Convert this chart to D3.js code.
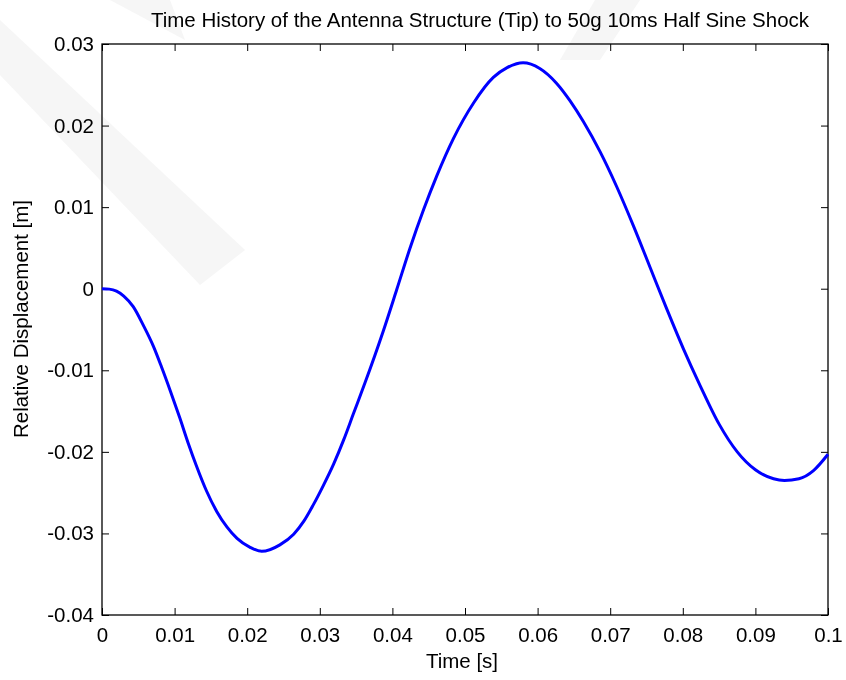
<!DOCTYPE html>
<html>
<head>
<meta charset="utf-8">
<script src="https://cdn.jsdelivr.net/npm/d3@7/dist/d3.min.js"></script>
<style>
  html, body { margin: 0; padding: 0; background: #fff; }
  svg { display: block; }
  text { font-family: "Liberation Sans", Arial, sans-serif; fill: #000; }
</style>
</head>
<body>
<svg id="chart" width="846" height="680"></svg>
<script>
// Tip displacement response to a 50g / 10 ms half-sine shock
const timeS = [0, 0.001, 0.002, 0.003, 0.0043, 0.0057, 0.0071, 0.0082, 0.0094, 0.0107,
  0.0119, 0.013, 0.0144, 0.0158, 0.0172, 0.0186, 0.0204, 0.022, 0.0245, 0.0264,
  0.0278, 0.0291, 0.0305, 0.0319, 0.0333, 0.0346, 0.0362, 0.0387, 0.0406, 0.0424,
  0.0443, 0.0461, 0.0484, 0.0512, 0.0539, 0.0558, 0.058, 0.0603, 0.0626, 0.0645,
  0.0663, 0.0686, 0.0709, 0.0732, 0.0755, 0.0778, 0.0801, 0.0824, 0.085, 0.0875,
  0.09, 0.0925, 0.094, 0.096, 0.098, 0.1];
const displacementM = [0, -0.00005, -0.0003, -0.0009, -0.0022, -0.0045, -0.0071, -0.0096, -0.0125, -0.0158,
  -0.0190, -0.0217, -0.0248, -0.0273, -0.0292, -0.0306, -0.0317, -0.0322, -0.0314, -0.0301,
  -0.0285, -0.0265, -0.0241, -0.0215, -0.0185, -0.0154, -0.0116, -0.0053, -0.0001, 0.0049,
  0.0097, 0.0138, 0.0184, 0.0228, 0.0259, 0.0271, 0.0277, 0.0270, 0.0252, 0.0230,
  0.0205, 0.0168, 0.0125, 0.0077, 0.0026, -0.0025, -0.0074, -0.0119, -0.0166, -0.0200,
  -0.0222, -0.0233, -0.0235, -0.0233, -0.0223, -0.0203];

const xTicks = [0, 0.01, 0.02, 0.03, 0.04, 0.05, 0.06, 0.07, 0.08, 0.09, 0.1];
const yTicks = [-0.04, -0.03, -0.02, -0.01, 0, 0.01, 0.02, 0.03];
const xTickLabels = ["0", "0.01", "0.02", "0.03", "0.04", "0.05", "0.06", "0.07", "0.08", "0.09", "0.1"];
const yTickLabels = ["-0.04", "-0.03", "-0.02", "-0.01", "0", "0.01", "0.02", "0.03"];

const titleText = "Time History of the Antenna Structure (Tip) to 50g 10ms Half Sine Shock";
const xLabelText = "Time [s]";
const yLabelText = "Relative Displacement [m]";

const svg = d3.select("#chart");
const W = 846, H = 680;
const m = { left: 102, right: 846 - 828, top: 44, bottom: 680 - 615 };
const pw = W - m.left - m.right, ph = H - m.top - m.bottom;

const fontSize = 20.5;
const tickLen = 7;

const x = d3.scaleLinear().domain([0, 0.1]).range([m.left, m.left + pw]);
const y = d3.scaleLinear().domain([-0.04, 0.03]).range([m.top + ph, m.top]);

// frame
svg.append("rect")
  .attr("x", m.left).attr("y", m.top).attr("width", pw).attr("height", ph)
  .attr("fill", "none").attr("stroke", "#000").attr("stroke-width", 1.3);

// bottom axis with inward ticks
const xAxisB = d3.axisBottom(x).tickValues(xTicks)
  .tickFormat((d, i) => xTickLabels[i]).tickSizeInner(-tickLen).tickSizeOuter(0).tickPadding(12);
const gxb = svg.append("g").attr("transform", `translate(0,${m.top + ph})`).call(xAxisB);
gxb.select(".domain").remove();
gxb.selectAll("line").attr("stroke", "#000");
gxb.selectAll("text").attr("font-size", fontSize).attr("font-family", "Liberation Sans, Arial, sans-serif");

const xAxisT = d3.axisTop(x).tickValues(xTicks).tickFormat("").tickSizeInner(-tickLen).tickSizeOuter(0);
const gxt = svg.append("g").attr("transform", `translate(0,${m.top})`).call(xAxisT);
gxt.select(".domain").remove();
gxt.selectAll("line").attr("stroke", "#000");

const yAxisL = d3.axisLeft(y).tickValues(yTicks)
  .tickFormat((d, i) => yTickLabels[i]).tickSizeInner(-tickLen).tickSizeOuter(0).tickPadding(8);
const gyl = svg.append("g").attr("transform", `translate(${m.left},0)`).call(yAxisL);
gyl.select(".domain").remove();
gyl.selectAll("line").attr("stroke", "#000");
gyl.selectAll("text").attr("font-size", fontSize).attr("font-family", "Liberation Sans, Arial, sans-serif");

const yAxisR = d3.axisRight(y).tickValues(yTicks).tickFormat("").tickSizeInner(-tickLen).tickSizeOuter(0);
const gyr = svg.append("g").attr("transform", `translate(${m.left + pw},0)`).call(yAxisR);
gyr.select(".domain").remove();
gyr.selectAll("line").attr("stroke", "#000");

// response curve
const pts = timeS.map((t, i) => [t, displacementM[i]]);
const line = d3.line().x(d => x(d[0])).y(d => y(d[1])).curve(d3.curveMonotoneX);
svg.append("path").datum(pts)
  .attr("d", line).attr("fill", "none")
  .attr("stroke", "#0000ff").attr("stroke-width", 3).attr("stroke-linejoin", "round");

// titles
svg.append("text").attr("x", 480).attr("y", 27)
  .attr("text-anchor", "middle").attr("font-size", fontSize).text(titleText);
svg.append("text").attr("x", 462).attr("y", 668)
  .attr("text-anchor", "middle").attr("font-size", fontSize).text(xLabelText);
svg.append("text").attr("transform", `translate(28,319) rotate(-90)`)
  .attr("text-anchor", "middle").attr("font-size", fontSize).text(yLabelText);

// faint diagonal overlay bands
const bg = svg.append("g").attr("fill", "#888").attr("opacity", 0.08).style("mix-blend-mode", "multiply");
bg.append("polygon").attr("points", "0,20 0,75 200,285 245,250");
bg.append("polygon").attr("points", "110,0 170,0 185,40");
bg.append("polygon").attr("points", "595,0 640,0 600,60 560,60");
</script>
</body>
</html>
